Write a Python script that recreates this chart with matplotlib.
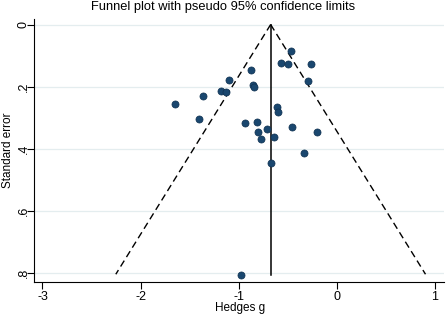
import matplotlib.pyplot as plt
import numpy as np

plt.rcParams["font.family"] = ["Liberation Sans", "DejaVu Sans"]

# study effect sizes (Hedges g) and standard errors
hedges_g = [-0.467, -0.878, -0.568, -0.500, -0.267, -0.297, -1.101, -0.858,
            -0.842, -1.180, -1.129, -1.365, -1.653, -0.615, -0.598, -1.410,
            -0.933, -0.811, -0.456, -0.713, -0.804, -0.203, -0.639, -0.774,
            -0.335, -0.669, -0.980]
std_err = [0.085, 0.146, 0.125, 0.128, 0.126, 0.183, 0.178, 0.195,
           0.201, 0.215, 0.216, 0.231, 0.255, 0.266, 0.282, 0.304,
           0.319, 0.314, 0.330, 0.336, 0.346, 0.345, 0.363, 0.369,
           0.414, 0.447, 0.808]
pooled_g = -0.675
se_max = 0.805

x_ticks = [-3, -2, -1, 0, 1]
y_ticks = [0, 0.2, 0.4, 0.6, 0.8]
y_tick_labels = ["0", ".2", ".4", ".6", ".8"]

fig = plt.figure(figsize=(4.47, 3.16), dpi=100)
ax = fig.add_axes([0.0768, 0.1066, 0.9162, 0.8334])

for y in y_ticks:
    ax.axhline(y, color="#e4edef", linewidth=0.9, zorder=0)

# pseudo 95% confidence limits
se_line = np.array([0.0, se_max])
ax.plot(pooled_g - 1.96 * se_line, se_line, color="black", linestyle=(0, (5, 3)), linewidth=1)
ax.plot(pooled_g + 1.96 * se_line, se_line, color="black", linestyle=(0, (5, 3)), linewidth=1)
ax.plot([pooled_g, pooled_g], [0, max(std_err)], color="black", linewidth=1.1)

ax.scatter(hedges_g, std_err, s=26, color="#1a476f", edgecolors="#0f3050",
           linewidths=0.5, zorder=3)

ax.set_xlim(-3.083, 1.09)
ax.set_ylim(0.831, -0.018)
ax.set_xticks(x_ticks)
ax.set_xticklabels([str(t) for t in x_ticks])
ax.set_yticks(y_ticks)
ax.set_yticklabels(y_tick_labels, rotation=90, va="center")
ax.tick_params(direction="out", length=5, width=0.8, labelsize=9)
ax.tick_params(axis="x", pad=1)
ax.tick_params(axis="y", pad=-1.5)
ax.spines["top"].set_visible(False)
ax.spines["right"].set_visible(False)

fig.text(240 / 447, 1 - 307.5 / 316, "Hedges g", fontsize=8.5, ha="center", va="center")
fig.text(8.5 / 447, 1 - 150 / 316, "Standard error", fontsize=8.5, rotation=90,
         ha="center", va="center")
fig.suptitle("Funnel plot with pseudo 95% confidence limits", fontsize=9.3, y=0.998, va="top")

fig.savefig("out.png", dpi=100)
